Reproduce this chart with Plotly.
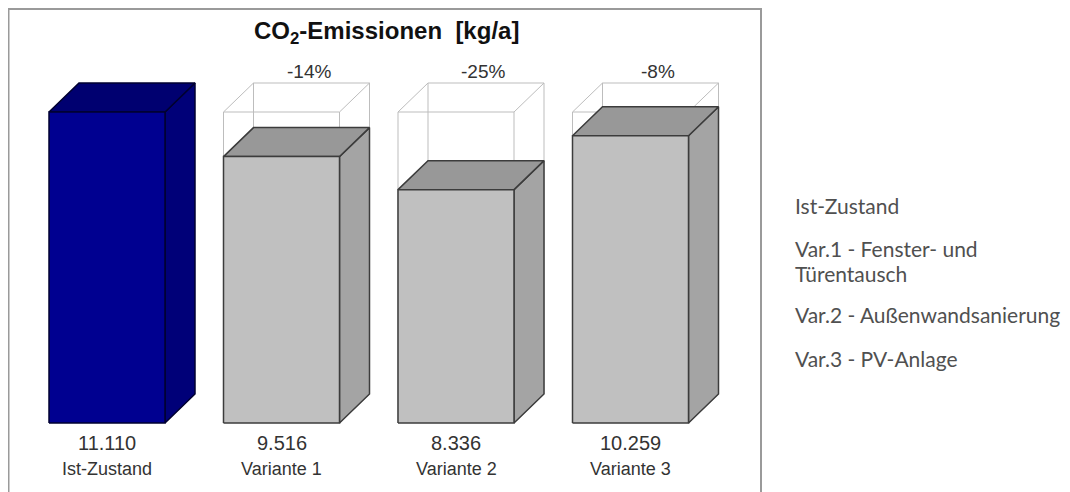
import plotly.graph_objects as go

# ---- data ----
categories = ["Ist-Zustand", "Variante 1", "Variante 2", "Variante 3"]
values = [11110, 9516, 8336, 10259]
legend_labels = ["Ist-Zustand", "Var.1 - Fenster- und<br>Türentausch",
                 "Var.2 - Außenwandsanierung", "Var.3 - PV-Anlage"]

# ---- geometry / styling (figure pixels; page has an 8px body offset) ----
W_PX, H_PX = 1070, 492
SPACING = 174.5
FIRST_CENTER = 99
BASE = 415
X_RANGE = [-FIRST_CENTER / SPACING, (W_PX - FIRST_CENTER) / SPACING]
PX_PER_UNIT = 311 / 11110
Y_RANGE = [-(H_PX - BASE) / PX_PER_UNIT, BASE / PX_PER_UNIT]
BW = 116 / SPACING          # bar front width (category units)
DX = 30 / SPACING           # depth offset x
DY = 29 / PX_PER_UNIT       # depth offset y


def ypx(p):
    return (BASE - p) / PX_PER_UNIT


colors_front = ["#000090"] + ["#c0c0c0"] * 3
colors_top = ["#000070"] + ["#989898"] * 3
colors_side = ["#000078"] + ["#a4a4a4"] * 3
edge_colors = ["#000030"] + ["#3c3c3c"] * 3

fig = go.Figure()


def poly(xs, ys, fill, line, width):
    fig.add_trace(go.Scatter(x=xs + [xs[0]], y=ys + [ys[0]], mode="lines",
                             fill="toself", fillcolor=fill,
                             line=dict(color=line, width=width),
                             hoverinfo="skip", showlegend=False))


ref = values[0]
for i, v in enumerate(values):
    x0, x1 = i - BW / 2, i + BW / 2
    if i > 0:
        # ghost wireframe of the reference box
        xs, ys = [], []
        edges = [
            ((x0, 0), (x0, ref)), ((x1, 0), (x1, ref)), ((x0, ref), (x1, ref)),
            ((x0 + DX, DY), (x0 + DX, ref + DY)), ((x1 + DX, DY), (x1 + DX, ref + DY)),
            ((x0 + DX, ref + DY), (x1 + DX, ref + DY)),
            ((x0, ref), (x0 + DX, ref + DY)), ((x1, ref), (x1 + DX, ref + DY)),
            ((x1, 0), (x1 + DX, DY)),
        ]
        for (a, b), (c, d) in edges:
            xs += [a, c, None]
            ys += [b, d, None]
        fig.add_trace(go.Scatter(x=xs, y=ys, mode="lines",
                                 line=dict(color="#bdbdbd", width=1),
                                 hoverinfo="skip", showlegend=False))
    # side face
    poly([x1, x1 + DX, x1 + DX, x1], [0, DY, v + DY, v],
         colors_side[i], edge_colors[i], 1.5)
    # top face
    poly([x0, x0 + DX, x1 + DX, x1], [v, v + DY, v + DY, v],
         colors_top[i], edge_colors[i], 1.5)
    # front face
    poly([x0, x1, x1, x0], [0, 0, v, v], colors_front[i], edge_colors[i], 1.5)

annotations = []
val_font = dict(family="Liberation Sans, Arial, sans-serif", size=20, color="#333333")
cat_font = dict(family="Liberation Sans, Arial, sans-serif", size=18, color="#333333")
pct_font = dict(family="Liberation Sans, Arial, sans-serif", size=19, color="#333333")
for i, (c, v) in enumerate(zip(categories, values)):
    annotations.append(dict(x=i, y=ypx(435), xref="x", yref="y",
                            text=f"{v:,}".replace(",", "."), showarrow=False,
                            font=val_font, yanchor="middle"))
    annotations.append(dict(x=i, y=ypx(461), xref="x", yref="y",
                            text=c, showarrow=False, font=cat_font,
                            yanchor="middle"))
    if i > 0:
        pct = round((v - ref) / ref * 100)
        annotations.append(dict(x=i + 0.9 * DX, y=ypx(63),
                                xref="x", yref="y", text=f"{pct}%",
                                showarrow=False, font=pct_font,
                                yanchor="middle"))

annotations.append(dict(x=378 / W_PX, y=1 - 24 / H_PX, xref="paper", yref="paper",
                        text="<b>CO<sub>2</sub>-Emissionen  [kg/a]</b>",
                        showarrow=False, yanchor="middle",
                        font=dict(family="Liberation Sans, Arial, sans-serif",
                                  size=24, color="#111111")))

legend_y = [[197], [241, 265], [306], [350]]
for lab, ys in zip(legend_labels, legend_y):
    for line_text, yy in zip(lab.split("<br>"), ys):
        annotations.append(dict(x=785 / W_PX, y=1 - yy / H_PX, xref="paper",
                                yref="paper", text=line_text, showarrow=False,
                                xanchor="left", yanchor="middle", align="left",
                                font=dict(family="Lato, sans-serif", size=21,
                                          color="#505050")))

shapes = [dict(type="path", xref="paper", yref="paper",
               path=f"M {0.5 / W_PX},-0.05 L {0.5 / W_PX},{1 - 1 / H_PX} "
                    f"L {753 / W_PX},{1 - 1 / H_PX} L {753 / W_PX},-0.05",
               line=dict(color="#9a9a9a", width=2))]

fig.update_layout(
    width=W_PX, height=H_PX,
    margin=dict(l=0, r=0, t=0, b=0),
    paper_bgcolor="white", plot_bgcolor="white",
    xaxis=dict(range=X_RANGE, visible=False, fixedrange=True),
    yaxis=dict(range=Y_RANGE, visible=False, fixedrange=True),
    annotations=annotations, shapes=shapes, showlegend=False,
)

fig.write_html("out.html")
